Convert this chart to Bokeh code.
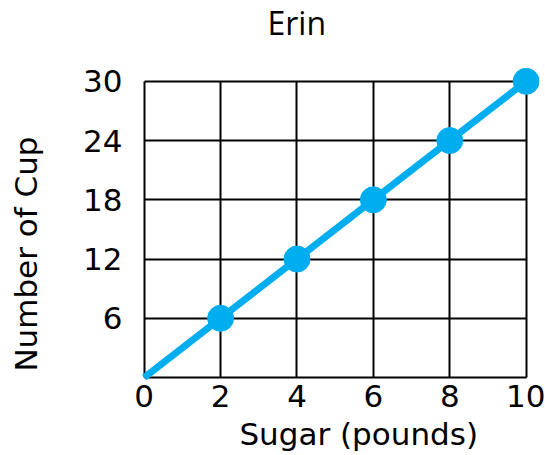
from bokeh.plotting import figure
from bokeh.models import Range1d, FixedTicker, LinearAxis
from bokeh.embed import file_html
from bokeh.resources import INLINE

# data
sugar = [0, 2, 4, 6, 8, 10]
cups = [0, 6, 12, 18, 24, 30]
point_sugar = [2, 4, 6, 8, 10]
point_cups = [6, 12, 18, 24, 30]
x_ticks = [0, 2, 4, 6, 8, 10]
y_ticks = [0, 6, 12, 18, 24, 30]
title_text = "Erin"
x_label = "Sugar (pounds)"
y_label = "Number of Cup"

BLUE = "#00AEEF"
FONT = "DejaVu Sans"
NB = "\u00a0"

p = figure(width=545, height=455, output_backend="svg", toolbar_location=None,
           x_range=Range1d(-0.15, 10.35), y_range=Range1d(-0.4, 31.4),
           min_border_left=138, min_border_right=6, min_border_top=65,
           min_border_bottom=74, title=title_text)

p.outline_line_color = None
p.background_fill_color = "white"
p.border_fill_color = "white"

p.title.text_font = "Open Sans"
p.title.text_font_size = "32px"
p.title.text_font_style = "normal"
p.title.text_color = "black"
p.title.align = "left"
p.title.offset = 129
p.title.vertical_align = "top"
p.title.standoff = 0

xax = p.below[0]
yax = p.left[0]

for ax, ticks in ((xax, x_ticks), (yax, y_ticks)):
    ax.ticker = FixedTicker(ticks=ticks)
    ax.axis_line_color = None
    ax.major_tick_line_color = None
    ax.minor_tick_line_color = None
    ax.major_tick_in = 0
    ax.major_tick_out = 0
    ax.major_label_text_font = FONT
    ax.major_label_text_font_size = "31px"
    ax.major_label_text_color = "black"
    ax.axis_label_text_font = FONT
    ax.axis_label_text_font_size = "31px"
    ax.axis_label_text_font_style = "normal"
    ax.axis_label_text_color = "black"

xax.axis_label = NB * 4 + x_label
yax.axis_label = y_label + NB * 6
yax.major_label_overrides = {0: ""}
xax.major_label_standoff = 3
xax.axis_label_standoff = 6
yax.major_label_standoff = 16
yax.axis_label_standoff = 36

xgrid = p.xgrid[0]
ygrid = p.ygrid[0]
xgrid.ticker = FixedTicker(ticks=x_ticks)
ygrid.ticker = FixedTicker(ticks=y_ticks)
xgrid.cross_bounds = (0, 30)
ygrid.cross_bounds = (0, 10)
for g in (xgrid, ygrid):
    g.grid_line_color = "black"
    g.grid_line_width = 2
    g.grid_line_alpha = 1.0

p.line(sugar, cups, line_width=7, color=BLUE)
p.scatter(point_sugar, point_cups, size=26, color=BLUE)

# blank top axis (no line, no tick marks, blank label) used only to space the title
spacer = LinearAxis(ticker=FixedTicker(ticks=[5]), axis_line_color=None,
                    major_tick_line_color=None, minor_tick_line_color=None,
                    major_tick_in=0, major_tick_out=18, major_label_standoff=0,
                    major_label_text_font_size="1px",
                    major_label_overrides={5: NB})
p.add_layout(spacer, "above")

open("out.html", "w").write(file_html(p, INLINE))
